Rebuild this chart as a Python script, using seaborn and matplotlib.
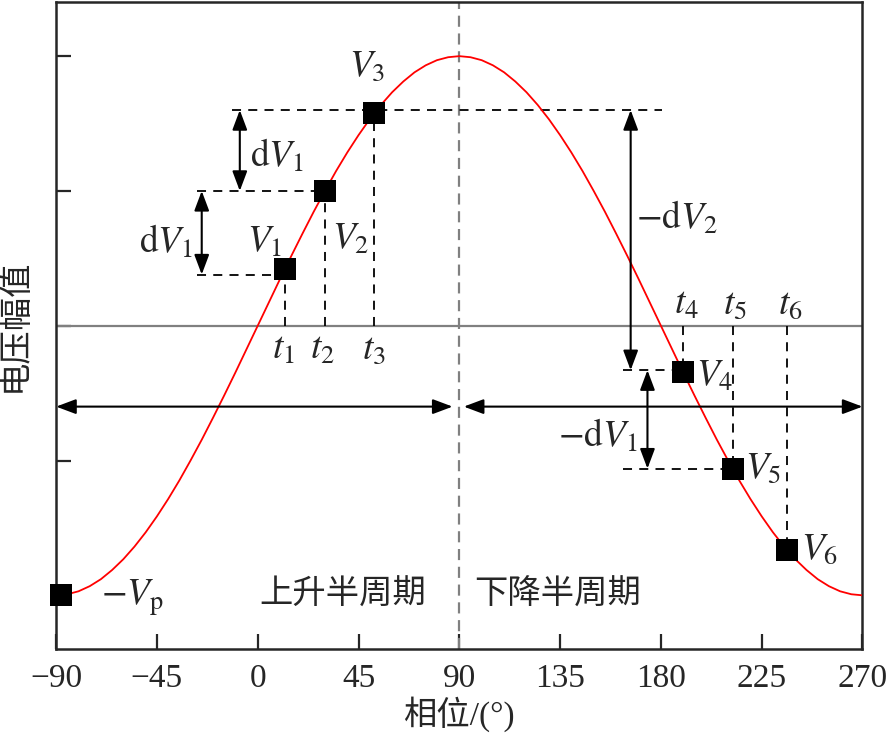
import matplotlib
matplotlib.use("Agg")
import seaborn as sns
import matplotlib.pyplot as plt

# sine-shaped voltage curve, read every 5 degrees
phase = [-90, -85, -80, -75, -70, -65, -60, -55, -50, -45, -40, -35, -30, -25, -20, -15, -10, -5,
         0, 5, 10, 15, 20, 25, 30, 35, 40, 45, 50, 55, 60, 65, 70, 75, 80, 85,
         90, 95, 100, 105, 110, 115, 120, 125, 130, 135, 140, 145, 150, 155, 160, 165, 170, 175,
         180, 185, 190, 195, 200, 205, 210, 215, 220, 225, 230, 235, 240, 245, 250, 255, 260, 265, 270]
voltage = [-1.000, -0.996, -0.985, -0.966, -0.940, -0.906, -0.866, -0.819, -0.766, -0.707,
           -0.643, -0.574, -0.500, -0.423, -0.342, -0.259, -0.174, -0.087,
           0.000, 0.087, 0.174, 0.259, 0.342, 0.423, 0.500, 0.574, 0.643, 0.707,
           0.766, 0.819, 0.866, 0.906, 0.940, 0.966, 0.985, 0.996,
           1.000, 0.996, 0.985, 0.966, 0.940, 0.906, 0.866, 0.819, 0.766, 0.707,
           0.643, 0.574, 0.500, 0.423, 0.342, 0.259, 0.174, 0.087,
           0.000, -0.087, -0.174, -0.259, -0.342, -0.423, -0.500, -0.574, -0.643, -0.707,
           -0.766, -0.819, -0.866, -0.906, -0.940, -0.966, -0.985, -0.996, -1.000]

# sample points -Vp, V1..V6
pt_x = [-88, 12, 30, 52, 190, 212, 236.5]
pt_y = [-1.0, 0.21, 0.50, 0.79, -0.17, -0.53, -0.83]

# guide levels
lv1, lv2, lv3, lv4, lv5 = 0.19, 0.50, 0.80, -0.165, -0.53

plt.rcParams['mathtext.fontset'] = 'stix'
sns.set_style('ticks')
plt.rcParams['font.family'] = ['Liberation Serif', 'Noto Sans CJK SC']
plt.rcParams['axes.unicode_minus'] = True

fig = plt.figure(figsize=(8.91, 7.42), dpi=100)
ax = fig.add_axes([0.063, 0.125, 0.905, 0.872])

ax.axhline(0, color='#808080', lw=1.6, zorder=1)
ax.axvline(90, color='#808080', lw=1.6, ls=(0, (5, 3)), zorder=1)

sns.lineplot(x=phase, y=voltage, color='red', lw=1.3, ax=ax, zorder=3)

dash = dict(color='black', lw=1.3, ls=(0, (5, 4)), zorder=2)
# horizontal guides
ax.plot([-11.5, 180.5], [lv3, lv3], **dash)
ax.plot([-27, pt_x[2]], [lv2, lv2], **dash)
ax.plot([-27, pt_x[1]], [lv1, lv1], **dash)
ax.plot([163, pt_x[4]], [lv4, lv4], **dash)
ax.plot([163, pt_x[5]], [lv5, lv5], **dash)
# vertical guides to zero line
for i in range(1, 7):
    ax.plot([pt_x[i], pt_x[i]], [0, pt_y[i]], **dash)

sns.scatterplot(x=pt_x, y=pt_y, marker='s', s=230, color='black', edgecolor='black',
                linewidth=0, ax=ax, zorder=5, clip_on=False)


def arrow(x0, y0, x1, y1):
    ax.annotate('', xy=(x1, y1), xytext=(x0, y0),
                arrowprops=dict(arrowstyle='<|-|>,head_length=0.8,head_width=0.3',
                                color='black', lw=1.5, mutation_scale=15,
                                shrinkA=0, shrinkB=0), zorder=4)


arrow(-8, lv2, -8, lv3)
arrow(-25, lv1, -25, lv2)
arrow(166.5, lv4, 166.5, lv3)
arrow(174, lv5, 174, lv4)
arrow(-90, -0.30, 87, -0.30)
arrow(92, -0.30, 270, -0.30)

fs = 24
mfs = 27
txt = dict(fontsize=mfs, ha='center', va='center', zorder=6)
ax.text(-3.5, 0.63, r'$\mathrm{d}V_1$', **{**txt, 'ha': 'left'})
ax.text(-29, 0.31, r'$\mathrm{d}V_1$', **{**txt, 'ha': 'right'})
ax.text(3, 0.31, r'$V_1$', **txt)
ax.text(41.5, 0.32, r'$V_2$', **txt)
ax.text(49, 0.96, r'$V_3$', **txt)
ax.text(204, -0.19, r'$V_4$', **txt)
ax.text(225.5, -0.53, r'$V_5$', **txt)
ax.text(251, -0.83, r'$V_6$', **txt)
ax.text(-56, -1.01, r'$-V_\mathrm{p}$', **txt)
ax.text(187, 0.40, r'$-\mathrm{d}V_2$', **txt)
ax.text(152, -0.41, r'$-\mathrm{d}V_1$', **txt)
for lab, xx in zip([r'$t_1$', r'$t_2$', r'$t_3$'], [11.5, 29, 52]):
    ax.text(xx, -0.09, lab, **txt)
for lab, xx in zip([r'$t_4$', r'$t_5$', r'$t_6$'], [191.5, 213, 238]):
    ax.text(xx, 0.08, lab, **txt)
ax.text(38, -1.0, '上升半周期', fontsize=fs, ha='center', va='center')
ax.text(134, -1.0, '下降半周期', fontsize=fs, ha='center', va='center')

ax.set_xlim(-90, 270)
ax.set_ylim(-1.2, 1.2)
ax.set_xticks([-90, -45, 0, 45, 90, 135, 180, 225, 270])
ax.set_xticklabels(['\u221290', '\u221245', '0', '45', '90', '135', '180', '225', '270'])
ax.set_yticks([-1, -0.5, 0, 0.5, 1])
ax.set_yticklabels([])
ax.tick_params(direction='in', length=11, width=1.6, labelsize=fs, pad=10)
for s in ax.spines.values():
    s.set_linewidth(1.8)
ax.set_xlabel('相位/(°)', fontsize=fs, labelpad=2)
ax.set_ylabel('电压幅值', fontsize=fs, labelpad=8)

fig.savefig('out.png', dpi=100)
